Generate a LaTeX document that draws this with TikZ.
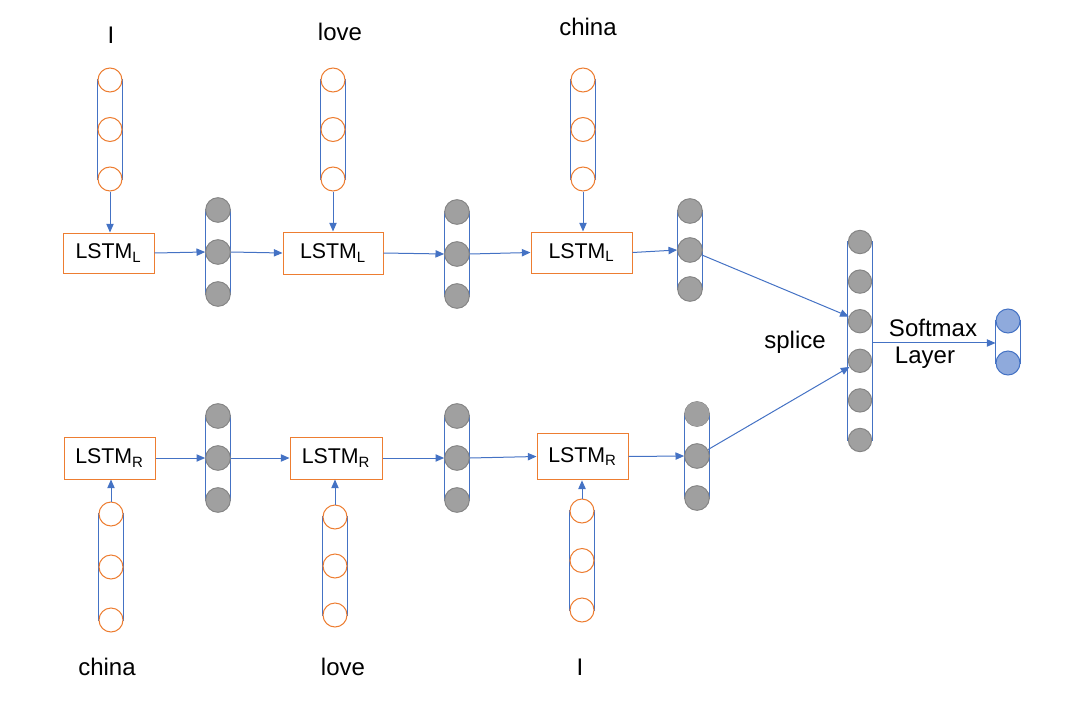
\documentclass[tikz,border=0pt]{standalone}
\usepackage{fontspec}
\setmainfont{Liberation Sans}
\usetikzlibrary{arrows.meta,backgrounds,calc}
\definecolor{orng}{HTML}{ED7D31}
\definecolor{blu}{HTML}{4472C4}
\definecolor{gfill}{HTML}{A0A0A0}
\definecolor{gline}{HTML}{858585}
\definecolor{ofill}{HTML}{8FAADC}
\newcommand{\myvec}[6]{%
  \foreach \i in {1,...,#5} { \node[#6] (#1-\i) at (#2, {#3+(\i-1)*#4}) {}; }
  \begin{scope}[on background layer]
    \draw[blu, line width=0.8pt] (#1-1.west) rectangle (#1-#5.east);
  \end{scope}
}
\begin{document}
\begin{tikzpicture}[x=0.75pt,y=-0.75pt,
  ocirc/.style={circle,draw=orng,fill=white,line width=0.75pt,minimum size=18pt,inner sep=0pt},
  gcirc/.style={circle,draw=gline,fill=gfill,line width=0.75pt,minimum size=18.5pt,inner sep=0pt},
  gcircn/.style={circle,fill=gfill,minimum size=18.5pt,inner sep=0pt},
  scirc/.style={circle,draw=gline,fill=gfill,line width=0.75pt,minimum size=17.5pt,inner sep=0pt},
  bcirc/.style={circle,draw=blu,fill=ofill,line width=0.75pt,minimum size=18pt,inner sep=0pt},
  lstm/.style={draw=orng,fill=white,line width=0.75pt,inner sep=0pt,font=\fontsize{16}{18}\selectfont},
  word/.style={font=\fontsize{18}{20}\selectfont,inner sep=0pt},
  arr/.style={blu,line width=0.75pt,-{Triangle[length=6.5pt,width=5.5pt]}}
]
\useasboundingbox (0,0) rectangle (1078,703);

% top input vectors
\myvec{I1}{110}{80}{49.5}{3}{ocirc}
\myvec{I2}{333}{80}{49.5}{3}{ocirc}
\myvec{I3}{583}{80}{49.5}{3}{ocirc}
% top hidden vectors
\myvec{H1}{218}{210}{42}{3}{gcirc}
\myvec{H2}{457}{212}{42}{3}{gcirc}
\myvec{H3}{690}{211}{39}{3}{gcirc}
% bottom hidden vectors
\myvec{G1}{218}{416}{42}{3}{gcirc}
\myvec{G2}{457}{416}{42}{3}{gcirc}
\myvec{G3}{697}{414}{42}{3}{gcirc}
\node[gcircn] at (G3-1) {};
% bottom input vectors
\myvec{J1}{111}{514}{53}{3}{ocirc}
\myvec{J2}{335}{517}{49}{3}{ocirc}
\myvec{J3}{582}{511}{49.5}{3}{ocirc}
% splice vector
\myvec{S}{860}{242}{39.6}{6}{scirc}
% output
\myvec{O}{1008}{321}{42}{2}{bcirc}

% LSTM boxes
\node[lstm,minimum width=68.25pt,minimum height=30pt] (L1) at (108.5,253) {LSTM\textsubscript{L}};
\node[lstm,minimum width=75pt,minimum height=31.5pt] (L2) at (333,253) {LSTM\textsubscript{L}};
\node[lstm,minimum width=75.75pt,minimum height=30.75pt] (L3) at (581.5,252.5) {LSTM\textsubscript{L}};
\node[lstm,minimum width=68.25pt,minimum height=31.5pt] (R1) at (109.5,458) {LSTM\textsubscript{R}};
\node[lstm,minimum width=69pt,minimum height=31.5pt] (R2) at (336,458) {LSTM\textsubscript{R}};
\node[lstm,minimum width=68.25pt,minimum height=35pt] (R3) at (582.5,456.5) {LSTM\textsubscript{R}};

% words
\node[word] (w1) at (111,35) {I};
\node[word] (w2) at (340,32) {love};
\node[word] (w3) at (588,27) {china};
\node[word] (w4) at (107,667) {china};
\node[word] (w5) at (343,667) {love};
\node[word] (w6) at (580,667) {I};
\node[word] (sp) at (795,342) {splice};
\node[word] (sm) at (933,328) {Softmax};
\node[word] (ly) at (925,358) {Layer};

% arrows top
\draw[arr] (I1-3.south) -- (I1-3.south |- L1.north);
\draw[arr] (I2-3.south) -- (I2-3.south |- L2.north);
\draw[arr] (I3-3.south) -- (I3-3.south |- L3.north);
\draw[arr] (L1.east) -- (H1-2.west);
\draw[arr] (H1-2.east) -- (L2.west);
\draw[arr] (L2.east) -- (H2-2.west);
\draw[arr] (H2-2.east) -- (L3.west);
\draw[arr] (L3.east) -- (H3-2.west);
% arrows bottom
\draw[arr] (J1-1.north) -- (J1-1.north |- R1.south);
\draw[arr] (J2-1.north) -- (J2-1.north |- R2.south);
\draw[arr] (J3-1.north) -- (J3-1.north |- R3.south);
\draw[arr] (R1.east) -- (G1-2.west);
\draw[arr] (G1-2.east) -- (R2.west);
\draw[arr] (R2.east) -- (G2-2.west);
\draw[arr] (G2-2.east) -- (R3.west);
\draw[arr] (R3.east) -- (G3-2.west);
% splice
\draw[arr] (H3-2) -- (S-3);
\draw[arr] (G3-2) -- (S-4);
\coordinate (smA) at ($(S-3.east)!0.55!(S-4.east)$);
\draw[arr] (smA) -- (O-1.west |- smA);
\end{tikzpicture}
\end{document}
